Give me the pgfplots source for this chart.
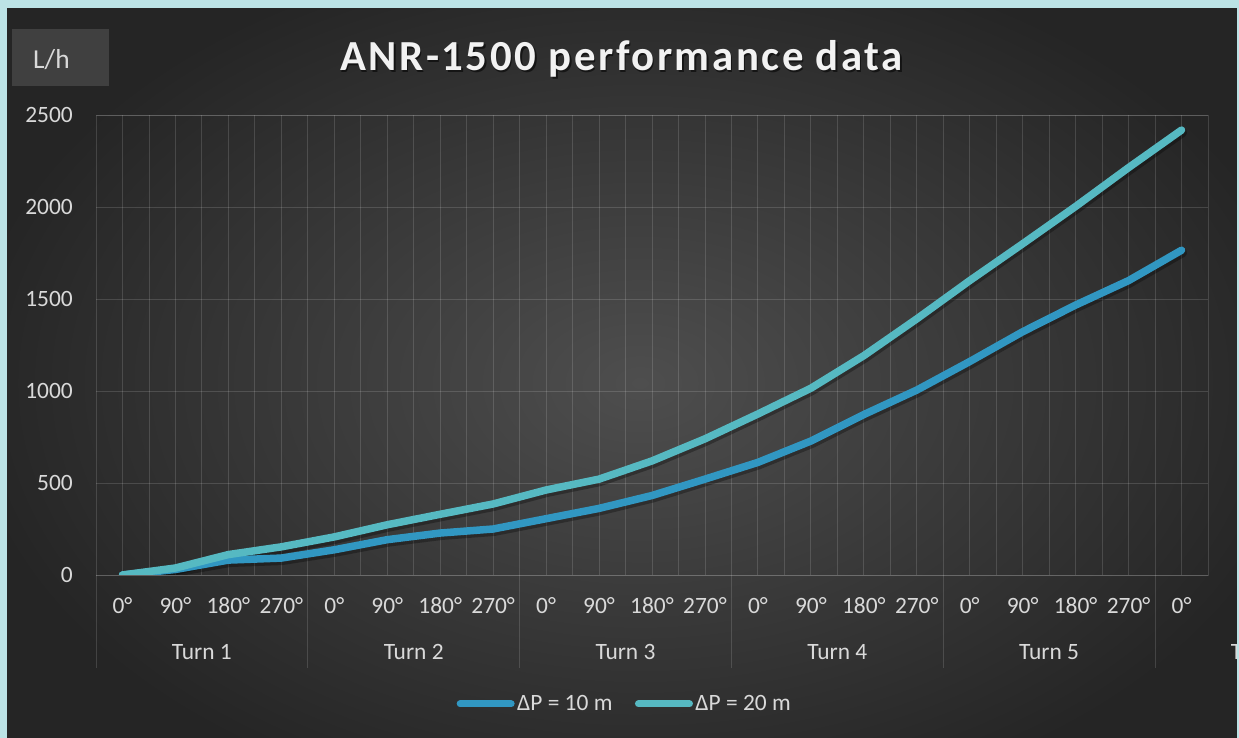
\documentclass[border=0pt]{standalone}
\usepackage{fontspec}
\setmainfont{Carlito}
\usepackage{pgfplots}
\usepackage{pgfplotstable}
\pgfplotsset{compat=1.18}
\definecolor{bordercyan}{HTML}{BCE3E6}
\definecolor{bgin}{HTML}{4E4E4E}
\definecolor{bgout}{HTML}{252525}
\definecolor{seriesA}{HTML}{3197C2}
\definecolor{seriesB}{HTML}{56B9C2}
\definecolor{labelc}{HTML}{D9D9D9}
\definecolor{titlec}{HTML}{F2F2F2}
\definecolor{boxc}{HTML}{404040}

\pgfplotstableread{
x  a     b
0  0     0
1  30    38
2  81    111
3  92    153
4  137   207
5  192   273
6  228   330
7  250   386
8  306   462
9  362   521
10 432   620
11 521   740
12 612   875
13 728   1015
14 872   1192
15 1005  1392
16 1160  1600
17 1322  1800
18 1467  2003
19 1600  2214
20 1765  2418
}\perfdata

\begin{document}
\begin{tikzpicture}
\useasboundingbox (0bp,0bp) rectangle (1239bp,738bp);
% background
\fill[bordercyan] (0bp,0bp) rectangle (1239bp,738bp);
\begin{scope}
\clip (7bp,0bp) rectangle (1237bp,729bp);
\shade[inner color=bgin, outer color=bgout] (-40bp,-90bp) rectangle (1320bp,800bp);
\end{scope}

\begin{axis}[
  at={(96bp,163bp)}, anchor=south west,
  scale only axis, width=1112bp, height=460bp,
  xmin=-0.5, xmax=20.5, ymin=0, ymax=2500,
  xtick={0,...,20},
  xticklabels={0°,90°,180°,270°,0°,90°,180°,270°,0°,90°,180°,270°,0°,90°,180°,270°,0°,90°,180°,270°,0°},
  minor x tick num=1,
  ytick={0,500,...,2500},
  xmajorgrids, xminorgrids, ymajorgrids,
  major grid style={white, opacity=0.14, line width=0.9bp},
  minor grid style={white, opacity=0.14, line width=0.9bp},
  major tick length=0pt, minor tick length=0pt,
  axis line style={white, opacity=0.14, line width=0.9bp},
  tick label style={font=\fontsize{23.5}{28}\selectfont, text=labelc},
  /pgf/number format/assume math mode=true,
  /pgf/number format/1000 sep={},
  yticklabel style={anchor=east, inner sep=0pt, xshift=-23bp},
  xticklabel style={anchor=base, inner sep=0pt, yshift=-38.3bp},
  legend columns=2,
  legend style={at={(0.4757,-0.2804)}, anchor=center, draw=none, fill=none,
    font=\fontsize{23.5}{28}\selectfont, text=labelc,
    nodes={inner sep=2.5bp},
    /tikz/every even column/.append style={column sep=20bp}},
  legend image code/.code={\draw[#1, line width=7bp, line cap=round] (0bp,0bp) -- (51bp,0bp);},
]
\addplot[forget plot, black, opacity=0.3, line width=9bp, line join=round, line cap=round, xshift=1bp, yshift=-2.5bp] table[x=x, y=a] {\perfdata};
\addplot[forget plot, black, opacity=0.3, line width=9bp, line join=round, line cap=round, xshift=1bp, yshift=-2.5bp] table[x=x, y=b] {\perfdata};
\addplot[seriesA, line width=7.5bp, line join=round, line cap=round] table[x=x, y=a] {\perfdata};
\addlegendentry{ΔP = 10 m}
\addplot[seriesB, line width=7.5bp, line join=round, line cap=round] table[x=x, y=b] {\perfdata};
\addlegendentry{ΔP = 20 m}
\end{axis}

% group separators
\foreach \gx in {96,307.8,519.6,731.4,943.2,1155.0} {
  \draw[white, opacity=0.14, line width=0.9bp] (\gx bp,163bp) -- (\gx bp,70bp);
}
% group labels
\foreach \cx/\lab in {201.9/Turn 1,413.7/Turn 2,625.5/Turn 3,837.3/Turn 4,1049.1/Turn 5,1260.9/Turn 6} {
  \node[anchor=base, inner sep=0pt, text=labelc, font=\fontsize{23.5}{28}\selectfont] at (\cx bp,78bp) {\lab};
}

% unit box
\fill[boxc] (12bp,652bp) rectangle (109bp,709bp);
\node[anchor=base west, inner sep=0pt, text=labelc, font=\fontsize{27.5}{32}\selectfont] at (33bp,669bp) {L/h};

% title with shadow
\node[anchor=base, inner sep=0pt, text=black, opacity=0.55, font=\fontsize{43}{50}\selectfont\bfseries\addfontfeature{LetterSpace=6}] at (623bp,665.5bp) {ANR-1500 performance data};
\node[anchor=base, inner sep=0pt, text=titlec, font=\fontsize{43}{50}\selectfont\bfseries\addfontfeature{LetterSpace=6}] at (621.5bp,667bp) {ANR-1500 performance data};

% right border strip drawn over the clipped label
\fill[bordercyan] (1237bp,0bp) rectangle (1239bp,738bp);
\end{tikzpicture}
\end{document}
